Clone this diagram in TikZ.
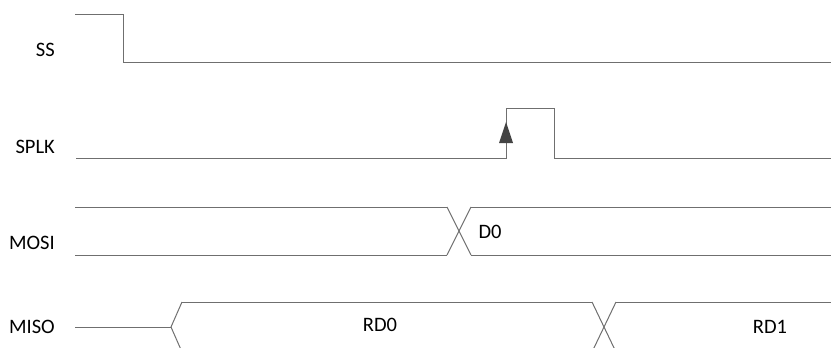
\documentclass[tikz,border=0pt]{standalone}
\usepackage{fontspec}
\setmainfont{Carlito}
\definecolor{wavegray}{HTML}{6F6F6F}
\definecolor{tipgray}{HTML}{444444}
\tikzset{
	wave/.style={draw=wavegray, line width=1pt},
	siglabel/.style={anchor=east, inner sep=0pt, font=\fontsize{20.5}{24}\selectfont},
	datalabel/.style={inner sep=0pt, font=\fontsize{20.5}{24}\selectfont}
}
\newcommand{\busx}[3] % x left, y top, y bottom
{
	% two crossing edges, 24 wide
	\draw[wave] (#1,#2) -- (#1+24,#3);
	\draw[wave] (#1,#3) -- (#1+24,#2);
}

\begin{document}
\begin{tikzpicture}[x=1pt,y=-1pt]
	% 831 x 348, y downwards
	\clip (0,0) rectangle (831,348);
	% signal names
	\node[siglabel] (ss) at (55,50) {SS};
	\node[siglabel] (splk) at (55,147) {SPLK};
	\node[siglabel] (mosi) at (55,243) {MOSI};
	\node[siglabel] (miso) at (55,327) {MISO};
	
	% SS
	\draw[wave] (75,14) -- (123,14) -- (123,62) -- (831,62);
	
	% SPLK
	\draw[wave] (76,158) -- (506,158) -- (506,108) -- (554,108) -- (554,158) -- (831,158);
	\fill[tipgray] (506,122) -- (513,143) -- (499,143) -- cycle;
	
	% MOSI
	\draw[wave] (75,207) -- (447,207);
	\draw[wave] (75,255) -- (447,255);
	\busx{447}{207}{255};
	\draw[wave] (471,207) -- (831,207);
	\draw[wave] (471,255) -- (831,255);
	\node[datalabel] (d0) at (490,232) {D0};
	
	% MISO
	\draw[wave] (75,327) -- (171,327);
	\draw[wave] (182,302) -- (171,327) -- (182,352);
	\draw[wave] (182,302) -- (592,302);
	\draw[wave] (182,352) -- (592,352);
	\busx{592}{302}{352};
	\draw[wave] (616,302) -- (831,302);
	\draw[wave] (616,352) -- (831,352);
	\node[datalabel] (rd0) at (380,325) {RD0};
	\node[datalabel] (rd1) at (770,327) {RD1};
\end{tikzpicture}
\end{document}
